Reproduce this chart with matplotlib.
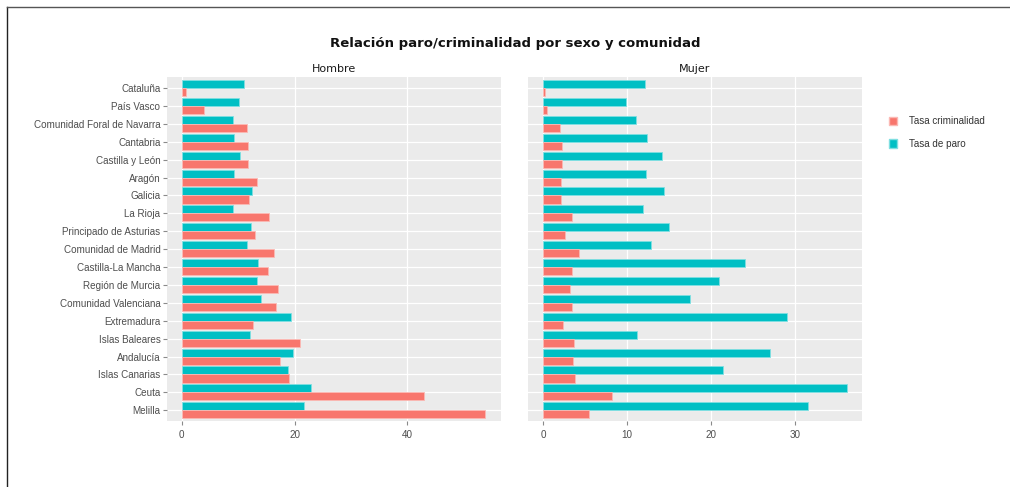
import numpy as np
import matplotlib
matplotlib.use("Agg")
import matplotlib.pyplot as plt
from matplotlib.lines import Line2D
from matplotlib.patches import Patch

# datos
comunidades = ["Cataluña", "País Vasco", "Comunidad Foral de Navarra", "Cantabria",
               "Castilla y León", "Aragón", "Galicia", "La Rioja",
               "Principado de Asturias", "Comunidad de Madrid", "Castilla-La Mancha",
               "Región de Murcia", "Comunidad Valenciana", "Extremadura",
               "Islas Baleares", "Andalucía", "Islas Canarias", "Ceuta", "Melilla"]

hombre_paro = [11.0, 10.1, 9.1, 9.2, 10.3, 9.3, 12.4, 9.1, 12.3, 11.6,
               13.6, 13.4, 14.0, 19.4, 12.1, 19.7, 18.8, 22.9, 21.6]
hombre_crim = [0.7, 3.9, 11.5, 11.8, 11.7, 13.4, 12.0, 15.5, 13.0, 16.4,
               15.3, 17.1, 16.8, 12.6, 21.0, 17.5, 19.1, 43.0, 53.9]
mujer_paro = [12.1, 9.9, 11.1, 12.4, 14.2, 12.2, 14.4, 11.9, 15.0, 12.9,
              24.0, 21.0, 17.5, 29.1, 11.2, 27.0, 21.4, 36.2, 31.6]
mujer_crim = [0.2, 0.4, 2.0, 2.2, 2.2, 2.1, 2.1, 3.4, 2.6, 4.3,
              3.4, 3.2, 3.4, 2.4, 3.7, 3.5, 3.8, 8.2, 5.5]

paneles = ["Hombre", "Mujer"]
x_ticks = [[0, 20, 40], [0, 10, 20, 30]]
series = ["Tasa criminalidad", "Tasa de paro"]

RED = "#F8766D"
TEAL = "#00BFC4"
GREY = "#4D4D4D"

plt.rcParams["font.family"] = "Liberation Sans"

fig = plt.figure(figsize=(10.1, 4.87), dpi=100)

axes = [fig.add_axes([0.165, 0.1355, 0.3307, 0.7057]),
        fig.add_axes([0.5228, 0.1355, 0.3307, 0.7057])]

y = np.arange(len(comunidades))
h = 0.45

datos = [(hombre_paro, hombre_crim), (mujer_paro, mujer_crim)]
for i, ax in enumerate(axes):
    paro, crim = datos[i]
    ax.set_facecolor("#EBEBEB")
    ax.barh(y - h / 2, paro, height=h, color=TEAL, edgecolor="#7FDFE1", linewidth=0.6, zorder=3)
    ax.barh(y + h / 2, crim, height=h, color=RED, edgecolor="#FBB9B4", linewidth=0.6, zorder=3)
    ax.set_ylim(len(comunidades) - 0.4, -0.6)
    ax.set_yticks(y)
    ax.set_xticks(x_ticks[i])
    ax.grid(True, color="white", linewidth=0.9, zorder=1)
    ax.set_axisbelow(True)
    for s in ax.spines.values():
        s.set_visible(False)
    ax.tick_params(axis="both", length=3, width=0.8, color="#8A8A8A",
                   labelsize=7.1, labelcolor=GREY, pad=1.5)
    ax.tick_params(axis="x", pad=3.5)
    ax.set_title(paneles[i], fontsize=8, color="#1A1A1A", pad=4, family="DejaVu Sans")

    mx = max(max(paro), max(crim))
    ax.set_xlim(-0.05 * mx, 1.05 * mx)

axes[0].set_yticklabels(comunidades)
axes[1].set_yticklabels([])
axes[1].tick_params(axis="y", length=0)

fig.suptitle("Relación paro/criminalidad por sexo y comunidad",
             x=0.51, y=0.925, fontsize=9.5, fontweight="bold", color="#111111",
             family="DejaVu Sans")

handles = [Patch(facecolor=RED, edgecolor="#FBB9B4"),
           Patch(facecolor=TEAL, edgecolor="#7FDFE1")]
fig.legend(handles, series, loc="upper left", bbox_to_anchor=(0.871, 0.78),
           frameon=False, fontsize=7.1, handlelength=0.9, handleheight=0.9,
           handletextpad=1.2, labelspacing=1.3, labelcolor="#333333")

# marco del documento
fig.add_artist(Line2D([7 / 1010, 7 / 1010], [0, 1 - 7 / 487], color="#222222", linewidth=1))
fig.add_artist(Line2D([7 / 1010, 1], [1 - 7 / 487, 1 - 7 / 487], color="#555555", linewidth=1))

fig.savefig("out.png", dpi=100)
